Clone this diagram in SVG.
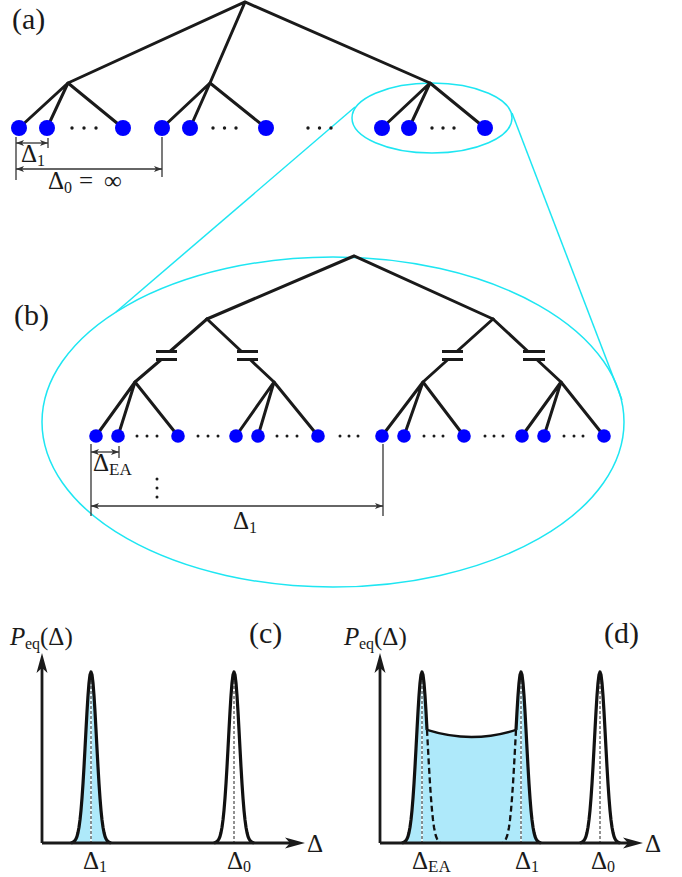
<svg xmlns="http://www.w3.org/2000/svg" xmlns:xlink="http://www.w3.org/1999/xlink" width="682" height="877" viewBox="0 0 682 877">
<style>
.edge{stroke:#1a1a1a;stroke-width:3;fill:none;stroke-linecap:round}
.leaf{fill:#0000ff}
.dot{fill:#1a1a1a}
.cyan{stroke:#1ee6f2;stroke-width:1.5;fill:none}
.dim{stroke:#333;stroke-width:1.3;fill:none}
.bar{stroke:#1a1a1a;stroke-width:3}
text{font-family:'Liberation Serif','Times New Roman',serif;fill:#1a1a1a}
.lbl{font-size:30px}
.d{font-size:25px}
.sub{font-size:16px}
.ea{font-size:17px}
.axis{stroke:#1a1a1a;stroke-width:2.8;fill:none}
.peak{stroke:#111;stroke-width:3.2;fill:none;stroke-linejoin:round}
.fillb{fill:#aee9fa}
.cdash{stroke:#222;stroke-width:1;stroke-dasharray:3,2;fill:none}
.wline{stroke:#fff;stroke-width:1.4;fill:none}
.tail{stroke:#111;stroke-width:2.3;stroke-dasharray:6,3.5;fill:none}
</style>
<defs>
<marker id="ar" viewBox="0 0 8 6" refX="8" refY="3" markerWidth="8" markerHeight="6" orient="auto-start-reverse" markerUnits="userSpaceOnUse">
<path d="M8,3 L0,0 L2,3 L0,6 z" fill="#333"/>
</marker>
<path id="gauss" d="M-20,843 L-18,842.2 L-16,840.5 L-15,838.8 L-14,836.3 L-13,832.5 L-12,827.2 L-11,819.9 L-10,810.3 L-9,798.2 L-8,783.6 L-7,766.9 L-6,748.7 L-5,729.9 L-4,711.7 L-3,695.6 L-2,682.9 L-1,674.8 L0,672 L1,674.8 L2,682.9 L3,695.6 L4,711.7 L5,729.9 L6,748.7 L7,766.9 L8,783.6 L9,798.2 L10,810.3 L11,819.9 L12,827.2 L13,832.5 L14,836.3 L15,838.8 L16,840.5 L18,842.2 L20,843"/>
</defs>

<!-- zoom connectors (cyan) -->
<g id="zoom">
<ellipse class="cyan" cx="432" cy="118" rx="80" ry="35"/>
<ellipse class="cyan" cx="333" cy="422" rx="291" ry="165"/>
<line class="cyan" x1="355" y1="107" x2="116" y2="312"/>
<line class="cyan" x1="512" y1="113" x2="622" y2="400"/>
</g>

<!-- panel (a) -->
<text class="lbl" x="12" y="29" font-family="Liberation Serif, serif">(a)</text>
<g id="a-edges">
<path class="edge" d="M68,83 L245,2 L430,83 M245,2 L210,83"/>
<path class="edge" d="M19,128 L68,83 L47,128 M68,83 L123,128"/>
<path class="edge" d="M162,128 L210,83 L190,128 M210,83 L266,128"/>
<path class="edge" d="M382,128 L430,83 L409,128 M430,83 L485,128"/>
</g>
<g id="a-leaf1"><circle class="leaf" cx="19" cy="128" r="8"/></g>
<g id="a-leaf2"><circle class="leaf" cx="47" cy="128" r="8"/></g>
<g id="a-leaf3"><circle class="leaf" cx="123" cy="128" r="8"/></g>
<g id="a-leaf4"><circle class="leaf" cx="162" cy="128" r="8"/></g>
<g id="a-leaf5"><circle class="leaf" cx="190" cy="128" r="8"/></g>
<g id="a-leaf6"><circle class="leaf" cx="266" cy="128" r="8"/></g>
<g id="a-leaf7"><circle class="leaf" cx="382" cy="128" r="8"/></g>
<g id="a-leaf8"><circle class="leaf" cx="409" cy="128" r="8"/></g>
<g id="a-leaf9"><circle class="leaf" cx="485" cy="128" r="8"/></g>
<g id="a-dots">
<circle class="dot" cx="72" cy="128" r="1.7"/><circle class="dot" cx="84" cy="128" r="1.7"/><circle class="dot" cx="96" cy="128" r="1.7"/>
<circle class="dot" cx="213" cy="128" r="1.7"/><circle class="dot" cx="224.5" cy="128" r="1.7"/><circle class="dot" cx="236" cy="128" r="1.7"/>
<circle class="dot" cx="308" cy="128" r="1.7"/><circle class="dot" cx="319.5" cy="128" r="1.7"/><circle class="dot" cx="331" cy="128" r="1.7"/>
<circle class="dot" cx="432" cy="128" r="1.7"/><circle class="dot" cx="443" cy="128" r="1.7"/><circle class="dot" cx="454" cy="128" r="1.7"/>
</g>
<g id="a-dims">
<line class="dim" x1="16" y1="137" x2="16" y2="180"/>
<line class="dim" x1="48" y1="138" x2="48" y2="148"/>
<line class="dim" x1="162" y1="137" x2="162" y2="177"/>
<line class="dim" x1="16" y1="143" x2="48" y2="143" marker-start="url(#ar)" marker-end="url(#ar)"/>
<line class="dim" x1="16" y1="169" x2="162" y2="169" marker-start="url(#ar)" marker-end="url(#ar)"/>
<text class="d" x="21" y="162" font-family="Liberation Serif, serif">Δ<tspan class="sub" dy="4">1</tspan></text>
<text class="d" x="48" y="189" font-family="Liberation Serif, serif">Δ<tspan class="sub" dy="4">0</tspan><tspan x="79" dy="-4">=</tspan><tspan x="104">∞</tspan></text>
</g>

<!-- panel (b) -->
<text class="lbl" x="14" y="325" font-family="Liberation Serif, serif">(b)</text>
<g id="b-edges">
<path class="edge" d="M207,319 L354,256 L493,319"/>
<path class="edge" d="M207,319 L170.4,351 M160.7,360 L135,382"/>
<path class="edge" d="M207,319 L241,351 M250.6,360 L274,382"/>
<path class="edge" d="M493,319 L457.4,351 M447.4,360 L423,382"/>
<path class="edge" d="M493,319 L527.5,351 M537.3,360 L561,382"/>
<path class="edge" d="M96,436 L135,382 L118,436 M135,382 L178,436"/>
<path class="edge" d="M236,436 L274,382 L258,436 M274,382 L318,436"/>
<path class="edge" d="M382,436 L423,382 L404,436 M423,382 L464,436"/>
<path class="edge" d="M522,436 L561,382 L544,436 M561,382 L604,436"/>
</g>
<g id="b-cap1"><line class="bar" x1="156" y1="351.5" x2="177" y2="351.5"/><line class="bar" x1="156" y1="359.5" x2="177" y2="359.5"/></g>
<g id="b-cap2"><line class="bar" x1="237" y1="351.5" x2="258" y2="351.5"/><line class="bar" x1="237" y1="359.5" x2="258" y2="359.5"/></g>
<g id="b-cap3"><line class="bar" x1="442" y1="351.5" x2="463" y2="351.5"/><line class="bar" x1="442" y1="359.5" x2="463" y2="359.5"/></g>
<g id="b-cap4"><line class="bar" x1="523" y1="351.5" x2="545" y2="351.5"/><line class="bar" x1="523" y1="359.5" x2="545" y2="359.5"/></g>
<g id="b-leaf1"><circle class="leaf" cx="96" cy="436" r="6.8"/></g>
<g id="b-leaf2"><circle class="leaf" cx="118" cy="436" r="6.8"/></g>
<g id="b-leaf3"><circle class="leaf" cx="178" cy="436" r="6.8"/></g>
<g id="b-leaf4"><circle class="leaf" cx="236" cy="436" r="6.8"/></g>
<g id="b-leaf5"><circle class="leaf" cx="258" cy="436" r="6.8"/></g>
<g id="b-leaf6"><circle class="leaf" cx="318" cy="436" r="6.8"/></g>
<g id="b-leaf7"><circle class="leaf" cx="382" cy="436" r="6.8"/></g>
<g id="b-leaf8"><circle class="leaf" cx="404" cy="436" r="6.8"/></g>
<g id="b-leaf9"><circle class="leaf" cx="464" cy="436" r="6.8"/></g>
<g id="b-leaf10"><circle class="leaf" cx="522" cy="436" r="6.8"/></g>
<g id="b-leaf11"><circle class="leaf" cx="544" cy="436" r="6.8"/></g>
<g id="b-leaf12"><circle class="leaf" cx="604" cy="436" r="6.8"/></g>
<g id="b-dots">
<circle class="dot" cx="137" cy="436" r="1.5"/><circle class="dot" cx="147" cy="436" r="1.5"/><circle class="dot" cx="157" cy="436" r="1.5"/>
<circle class="dot" cx="198" cy="436" r="1.5"/><circle class="dot" cx="208" cy="436" r="1.5"/><circle class="dot" cx="218" cy="436" r="1.5"/>
<circle class="dot" cx="277" cy="436" r="1.5"/><circle class="dot" cx="287" cy="436" r="1.5"/><circle class="dot" cx="297" cy="436" r="1.5"/>
<circle class="dot" cx="340" cy="436" r="1.5"/><circle class="dot" cx="349" cy="436" r="1.5"/><circle class="dot" cx="358" cy="436" r="1.5"/>
<circle class="dot" cx="424" cy="436" r="1.5"/><circle class="dot" cx="434" cy="436" r="1.5"/><circle class="dot" cx="443" cy="436" r="1.5"/>
<circle class="dot" cx="485" cy="436" r="1.5"/><circle class="dot" cx="494" cy="436" r="1.5"/><circle class="dot" cx="503" cy="436" r="1.5"/>
<circle class="dot" cx="564" cy="436" r="1.5"/><circle class="dot" cx="574" cy="436" r="1.5"/><circle class="dot" cx="583" cy="436" r="1.5"/>
<circle class="dot" cx="157" cy="479" r="1.5"/><circle class="dot" cx="157" cy="488" r="1.5"/><circle class="dot" cx="157" cy="497" r="1.5"/>
</g>
<g id="b-dims">
<line class="dim" x1="91" y1="444" x2="91" y2="516"/>
<line class="dim" x1="119" y1="446" x2="119" y2="458"/>
<line class="dim" x1="383" y1="444" x2="383" y2="516"/>
<line class="dim" x1="91" y1="452" x2="119" y2="452" marker-start="url(#ar)" marker-end="url(#ar)"/>
<line class="dim" x1="91" y1="506" x2="383" y2="506" marker-start="url(#ar)" marker-end="url(#ar)"/>
<text class="d" x="93" y="471" font-family="Liberation Serif, serif">Δ<tspan class="ea" dy="4">EA</tspan></text>
<text class="d" x="233" y="529" font-family="Liberation Serif, serif">Δ<tspan class="sub" dy="4">1</tspan></text>
</g>

<!-- panel (c) -->
<g id="c-plot">
<text class="lbl" x="249" y="643" font-family="Liberation Serif, serif">(c)</text>
<text class="d" x="10" y="645" font-family="Liberation Serif, serif"><tspan font-style="italic">P</tspan><tspan x="25" font-size="16" dy="4">eq</tspan><tspan x="40" dy="-4">(Δ)</tspan></text>
<use xlink:href="#gauss" x="91" class="fillb"/>
<line class="wline" x1="91" y1="676" x2="91" y2="843"/>
<line class="cdash" x1="91" y1="676" x2="91" y2="843"/>
<use xlink:href="#gauss" x="91" class="peak"/>
<line class="cdash" x1="234" y1="676" x2="234" y2="843"/>
<use xlink:href="#gauss" x="234" class="peak"/>
<line class="axis" x1="42" y1="843" x2="42" y2="668"/>
<line class="axis" x1="42" y1="843" x2="292" y2="843"/>
<path d="M42,653 L36.5,673 L42,668 L47.5,673 z" fill="#1a1a1a"/>
<path d="M305,843 L285,837.5 L290,843 L285,848.5 z" fill="#1a1a1a"/>
<text class="d" x="307" y="852" font-family="Liberation Serif, serif">Δ</text>
<text class="d" x="83" y="869" font-family="Liberation Serif, serif">Δ<tspan class="sub" dy="3">1</tspan></text>
<text class="d" x="227" y="869" font-family="Liberation Serif, serif">Δ<tspan class="sub" dy="3">0</tspan></text>
</g>

<!-- panel (d) -->
<g id="d-plot">
<text class="lbl" x="604" y="643" font-family="Liberation Serif, serif">(d)</text>
<text class="d" x="344" y="645" font-family="Liberation Serif, serif"><tspan font-style="italic">P</tspan><tspan x="359" font-size="16" dy="4">eq</tspan><tspan x="374" dy="-4">(Δ)</tspan></text>
<path class="fillb" d="M402,843 L404,842.2 L406,840.5 L407,838.8 L408,836.3 L409,832.5 L410,827.2 L411,819.9 L412,810.3 L413,798.2 L414,783.6 L415,766.9 L416,748.7 L417,729.9 L418,711.7 L419,695.6 L420,682.9 L421,674.8 L422,672 L423,674.8 L424,682.9 L425,695.6 L426,711.7 L427,729.9 Q471.5,744 516,729.9 L517,711.7 L518,695.6 L519,682.9 L520,674.8 L521,672 L522,674.8 L523,682.9 L524,695.6 L525,711.7 L526,729.9 L527,748.7 L528,766.9 L529,783.6 L530,798.2 L531,810.3 L532,819.9 L533,827.2 L534,832.5 L535,836.3 L536,838.8 L537,840.5 L539,842.2 L541,843 Z"/>
<line class="wline" x1="422" y1="676" x2="422" y2="843"/>
<line class="cdash" x1="422" y1="676" x2="422" y2="843"/>
<line class="wline" x1="521" y1="676" x2="521" y2="843"/>
<line class="cdash" x1="521" y1="676" x2="521" y2="843"/>
<line class="cdash" x1="600" y1="676" x2="600" y2="843"/>
<path class="tail" d="M427,729.9 L428,748.7 L429,766.9 L430,783.6 L431,798.2 L432,810.3 L433,819.9 L434,827.2 L435,832.5 L436,836.3 L437,838.8 L438,840.5 L440,842.2"/>
<path class="tail" d="M516,729.9 L515,748.7 L514,766.9 L513,783.6 L512,798.2 L511,810.3 L510,819.9 L509,827.2 L508,832.5 L507,836.3 L506,838.8 L505,840.5 L503,842.2"/>
<path class="peak" d="M402,843 L404,842.2 L406,840.5 L407,838.8 L408,836.3 L409,832.5 L410,827.2 L411,819.9 L412,810.3 L413,798.2 L414,783.6 L415,766.9 L416,748.7 L417,729.9 L418,711.7 L419,695.6 L420,682.9 L421,674.8 L422,672 L423,674.8 L424,682.9 L425,695.6 L426,711.7 L427,729.9"/>
<path d="M427,729.9 Q471.5,744 516,729.9" stroke="#111" stroke-width="2.4" fill="none"/>
<path class="peak" d="M516,729.9 L517,711.7 L518,695.6 L519,682.9 L520,674.8 L521,672 L522,674.8 L523,682.9 L524,695.6 L525,711.7 L526,729.9 L527,748.7 L528,766.9 L529,783.6 L530,798.2 L531,810.3 L532,819.9 L533,827.2 L534,832.5 L535,836.3 L536,838.8 L537,840.5 L539,842.2 L541,843"/>
<use xlink:href="#gauss" x="600" class="peak"/>
<line class="axis" x1="380" y1="843" x2="380" y2="668"/>
<line class="axis" x1="380" y1="843" x2="630" y2="843"/>
<path d="M380,653 L374.5,673 L380,668 L385.5,673 z" fill="#1a1a1a"/>
<path d="M643,843 L623,837.5 L628,843 L623,848.5 z" fill="#1a1a1a"/>
<text class="d" x="645" y="852" font-family="Liberation Serif, serif">Δ</text>
<text class="d" x="412" y="869" font-family="Liberation Serif, serif">Δ<tspan class="ea" dy="3">EA</tspan></text>
<text class="d" x="515" y="869" font-family="Liberation Serif, serif">Δ<tspan class="sub" dy="3">1</tspan></text>
<text class="d" x="591" y="869" font-family="Liberation Serif, serif">Δ<tspan class="sub" dy="3">0</tspan></text>
</g>
</svg>
